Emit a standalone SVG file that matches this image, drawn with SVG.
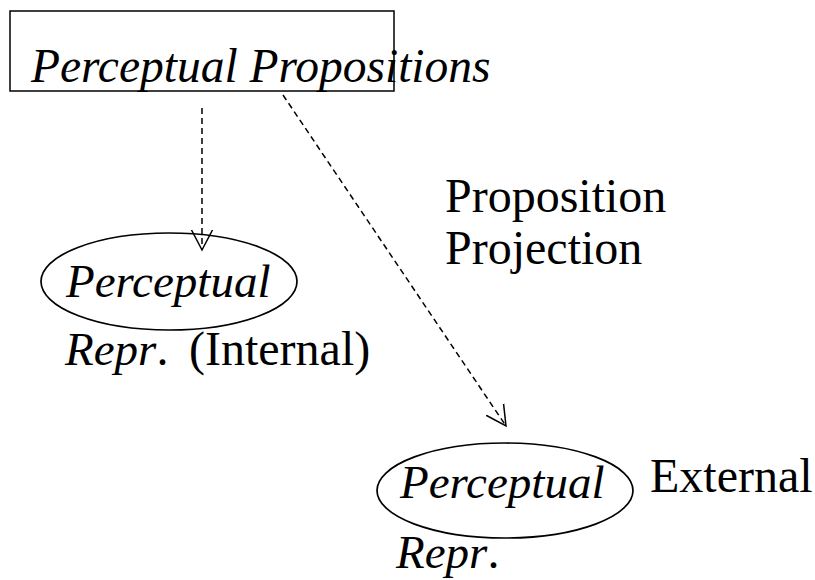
<svg xmlns="http://www.w3.org/2000/svg" width="815" height="580" viewBox="0 0 815 580">
  <style>
    .box { fill: none; stroke: #000; stroke-width: 1.5; }
    .oval { fill: none; stroke: #000; stroke-width: 1.7; }
    .dash { fill: none; stroke: #000; stroke-width: 1.5; stroke-dasharray: 6 4; }
    .head { fill: none; stroke: #000; stroke-width: 1.5; }
    .it { font-family: "Liberation Serif", "Times New Roman", serif; font-style: italic; font-size: 47px; fill: #000; }
    .up { font-family: "Liberation Serif", "Times New Roman", serif; font-size: 48px; fill: #000; }
    .title { font-size: 47.5px; }
  </style>
  <defs>
    <marker id="vee" viewBox="0 0 24 24" refX="20" refY="12" markerWidth="24" markerHeight="24" markerUnits="userSpaceOnUse" orient="auto">
      <path class="head" d="M0,1.5 L20,12 L0,22.5"/>
    </marker>
  </defs>

  <g id="connectors">
    <line class="dash" x1="202" y1="108" x2="202" y2="250" marker-end="url(#vee)"/>
    <line class="dash" x1="283" y1="95" x2="506" y2="426" marker-end="url(#vee)"/>
  </g>

  <g id="propositions">
    <rect class="box" x="10" y="11" width="384" height="80"/>
    <text class="it title" x="31" y="82">Perceptual Propositions</text>
  </g>

  <g id="projection-label">
    <text class="up" x="445" y="212">Proposition</text>
    <text class="up" x="445" y="264">Projection</text>
  </g>

  <g id="internal-repr">
    <ellipse class="oval" cx="169" cy="281.5" rx="128" ry="48.5"/>
    <text class="it" x="66" y="297">Perceptual</text>
    <text x="65" y="365"><tspan class="it">Repr</tspan><tspan class="up">.</tspan><tspan class="up" x="189">(Internal)</tspan></text>
  </g>

  <g id="external-repr">
    <ellipse class="oval" cx="505" cy="490.5" rx="128" ry="47.5"/>
    <text class="it" x="400" y="498">Perceptual</text>
    <text class="up" x="650" y="492">External</text>
    <text x="396" y="568"><tspan class="it">Repr</tspan><tspan class="up">.</tspan></text>
  </g>
</svg>
